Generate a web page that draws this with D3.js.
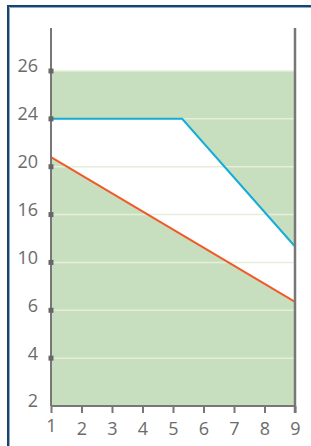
<!DOCTYPE html>
<html>
<head>
<meta charset="utf-8">
<script src="https://cdn.jsdelivr.net/npm/d3@7"></script>
<style>
    body { margin: 0; background: #fff; }
    svg { display: block; }
</style>
</head>
<body>
<div id="chart"></div>
<script>
// values
const xTicks = [1, 2, 3, 4, 5, 6, 7, 8, 9];
const yTicks = [2, 4, 6, 10, 16, 20, 24, 26];
const blueLine = [[1, 24], [5.3, 24], [9, 12]];
const redLine = [[1, 20.8], [9, 6.7]];

const width = 311;
const height = 446;
const plot = {left: 51, right: 295, top: 71, bottom: 406};

const svg = d3.select('#chart').append('svg')
    .attr('width', width)
    .attr('height', height);

// frame (only top and left edges are inside the picture)
svg.append('path')
    .attr('d', `M8,${height + 5} V6 H${width + 5}`)
    .attr('fill', 'none')
    .attr('stroke', '#1d4466')
    .attr('stroke-width', 2);
svg.append('path')
    .attr('d', `M9.5,${height + 5} V7.5 H${width + 5}`)
    .attr('fill', 'none')
    .attr('stroke', '#86aed3')
    .attr('stroke-width', 1);

const xScale = d3.scaleLinear()
    .domain(d3.extent(xTicks))
    .range([plot.left, plot.right]);

// y labels are evenly spaced, so map them piecewise
const yIndex = d3.scaleLinear()
    .domain([0, yTicks.length - 1])
    .range([plot.bottom, plot.top]);
const yScale = d3.scaleLinear()
    .domain(yTicks)
    .range(yTicks.map((d, i) => yIndex(i)));

const green = '#c8dfbf';

// green above the blue line
svg.append('path')
    .datum(blueLine)
    .attr('fill', green)
    .attr('d', d3.area()
        .x(d => xScale(d[0]))
        .y0(yScale(d3.max(yTicks)))
        .y1(d => yScale(d[1])));

// green below the red line
svg.append('path')
    .datum(redLine)
    .attr('fill', green)
    .attr('d', d3.area()
        .x(d => xScale(d[0]))
        .y0(yScale(d3.min(yTicks)))
        .y1(d => yScale(d[1])));

// grid
svg.append('g')
    .selectAll('line')
    .data(yTicks.slice(1))
    .enter().append('line')
    .attr('x1', plot.left)
    .attr('x2', plot.right)
    .attr('y1', d => yScale(d))
    .attr('y2', d => yScale(d))
    .attr('stroke', '#e4eed9')
    .attr('stroke-width', 1.5);

const line = d3.line()
    .x(d => xScale(d[0]))
    .y(d => yScale(d[1]));

svg.append('path')
    .datum(redLine)
    .attr('fill', 'none')
    .attr('stroke', '#f05a28')
    .attr('stroke-width', 2)
    .attr('d', line);

svg.append('path')
    .datum(blueLine)
    .attr('fill', 'none')
    .attr('stroke', '#16acd9')
    .attr('stroke-width', 2)
    .attr('d', line);

// axes
const axisColor = '#777';
const textColor = '#6b6b6b';

svg.append('line')
    .attr('x1', plot.left).attr('x2', plot.left)
    .attr('y1', 28).attr('y2', plot.bottom)
    .attr('stroke', axisColor).attr('stroke-width', 2);
svg.append('line')
    .attr('x1', plot.right).attr('x2', plot.right)
    .attr('y1', 28).attr('y2', plot.bottom + 7)
    .attr('stroke', axisColor).attr('stroke-width', 2.5);
svg.append('line')
    .attr('x1', plot.left).attr('x2', plot.right)
    .attr('y1', plot.bottom).attr('y2', plot.bottom)
    .attr('stroke', axisColor).attr('stroke-width', 2);

// y ticks: small squares
svg.append('g')
    .selectAll('rect')
    .data(yTicks.slice(1))
    .enter().append('rect')
    .attr('x', plot.left - 2.5)
    .attr('y', d => yScale(d) - 2.5)
    .attr('width', 5)
    .attr('height', 5)
    .attr('fill', '#666');

const yAxis = svg.append('g')
    .attr('transform', `translate(${plot.left},0)`)
    .call(d3.axisLeft(yScale).tickValues(yTicks).tickSize(0).tickPadding(13));
yAxis.select('.domain').remove();
yAxis.selectAll('text')
    .attr('dy', '0.05em')
    .style('fill', textColor)
    .style('font-family', '"Open Sans", sans-serif')
    .style('font-size', '18px');

const xAxis = svg.append('g')
    .attr('transform', `translate(0,${plot.bottom})`)
    .call(d3.axisBottom(xScale).tickValues(xTicks).tickSize(7).tickPadding(9));
xAxis.select('.domain').remove();
xAxis.selectAll('line')
    .attr('stroke', axisColor)
    .attr('stroke-width', 2);
xAxis.selectAll('text')
    .attr('dy', (d, i) => i === 0 ? '0.55em' : '0.71em')
    .style('fill', textColor)
    .style('font-family', '"Open Sans", sans-serif')
    .style('font-size', '18px');
</script>
</body>
</html>
